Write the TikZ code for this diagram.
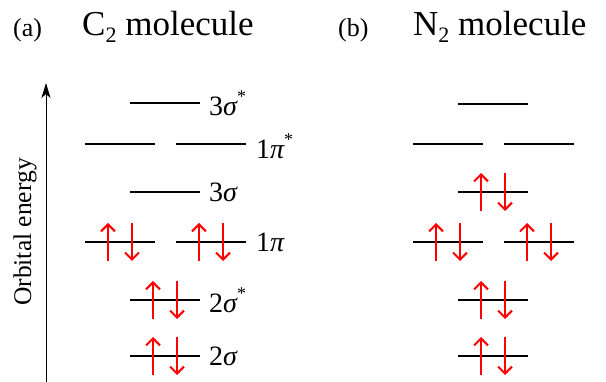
\documentclass[tikz,border=0pt]{standalone}
\usepackage{fontspec}
\setmainfont{Liberation Serif}
\usetikzlibrary{arrows.meta}
\tikzset{
  molev/.style={line width=1.6pt},
  elec/.style={red, line width=2pt, -{Straight Barb[length=7pt,width=14pt,line width=2pt]}},
  lab/.style={anchor=west, inner sep=0pt, font=\fontsize{28}{28}\selectfont},
  ttl/.style={anchor=base west, inner sep=0pt, font=\fontsize{35}{35}\selectfont},
  tag/.style={anchor=base west, inner sep=0pt, font=\fontsize{26}{26}\selectfont},
  axis/.style={line width=1pt, -{Stealth[length=15pt,width=9pt,inset=4pt]}}
}
\newcommand\mylev[4]{% name, x1, x2, y
  \coordinate (#1-l) at (#2,#4);
  \coordinate (#1-r) at (#3,#4);
  \draw[molev] (#1-l) -- (#1-r);
}
\newcommand\mypair[3]{% name, xleft, y
  \coordinate (#1-us) at ({#2+23},{#3+19});
  \coordinate (#1-ue) at ({#2+23},{#3-19});
  \coordinate (#1-ds) at ({#2+47},{#3-19});
  \coordinate (#1-de) at ({#2+47},{#3+19});
  \draw[elec] (#1-us) -- (#1-ue);
  \draw[elec] (#1-ds) -- (#1-de);
}
\newcommand\sub[1]{\raisebox{-0.2em}{\fontsize{22}{22}\selectfont #1}}
\newcommand\myast{\raisebox{0.45em}{\fontsize{18}{18}\selectfont *}}
\begin{document}
\begin{tikzpicture}[x=1pt,y=-1pt]
\useasboundingbox (0,0) rectangle (606,382);
% titles
\node[tag] (ta) at (13,37) {(a)};
\node[ttl] (tc) at (82,36) {C\sub{2} molecule};
\node[tag] (tb) at (338,37) {(b)};
\node[ttl] (tn) at (413,36) {N\sub{2} molecule};
% axis
\coordinate (ax0) at (46,382);
\coordinate (ax1) at (46,83);
\draw[axis] (ax0) -- (ax1);
\node[rotate=90, inner sep=0pt, font=\fontsize{25.5}{25.5}\selectfont] (axl) at (25,232) {Orbital energy};
% C2 levels
\mylev{a3ss}{130}{200}{103}
\mylev{a1pa}{85}{155}{144}
\mylev{a1pb}{176}{246}{144}
\mylev{a3s}{130}{200}{192}
\mylev{a1qa}{85}{155}{242}
\mylev{a1qb}{176}{246}{242}
\mylev{a2ss}{130}{200}{300}
\mylev{a2s}{130}{200}{356}
\mypair{ea1}{85}{242}
\mypair{ea2}{176}{242}
\mypair{ea3}{130}{300}
\mypair{ea4}{130}{356}
% labels
\node[lab] (l1) at (209,103) {3{\itshape σ}\myast};
\node[lab] (l2) at (256,146) {1{\itshape π}\myast};
\node[lab] (l3) at (209,192) {3{\itshape σ}};
\node[lab] (l4) at (256,242) {1{\itshape π}};
\node[lab] (l5) at (209,300) {2{\itshape σ}\myast};
\node[lab] (l6) at (209,356) {2{\itshape σ}};
% N2 levels
\mylev{b3ss}{458}{528}{104}
\mylev{b1pa}{413}{483}{144}
\mylev{b1pb}{504}{574}{144}
\mylev{b3s}{458}{528}{192}
\mylev{b1qa}{413}{483}{242}
\mylev{b1qb}{504}{574}{242}
\mylev{b2ss}{458}{528}{300}
\mylev{b2s}{458}{528}{356}
\mypair{eb0}{458}{192}
\mypair{eb1}{413}{242}
\mypair{eb2}{504}{242}
\mypair{eb3}{458}{300}
\mypair{eb4}{458}{356}
\end{tikzpicture}
\end{document}
